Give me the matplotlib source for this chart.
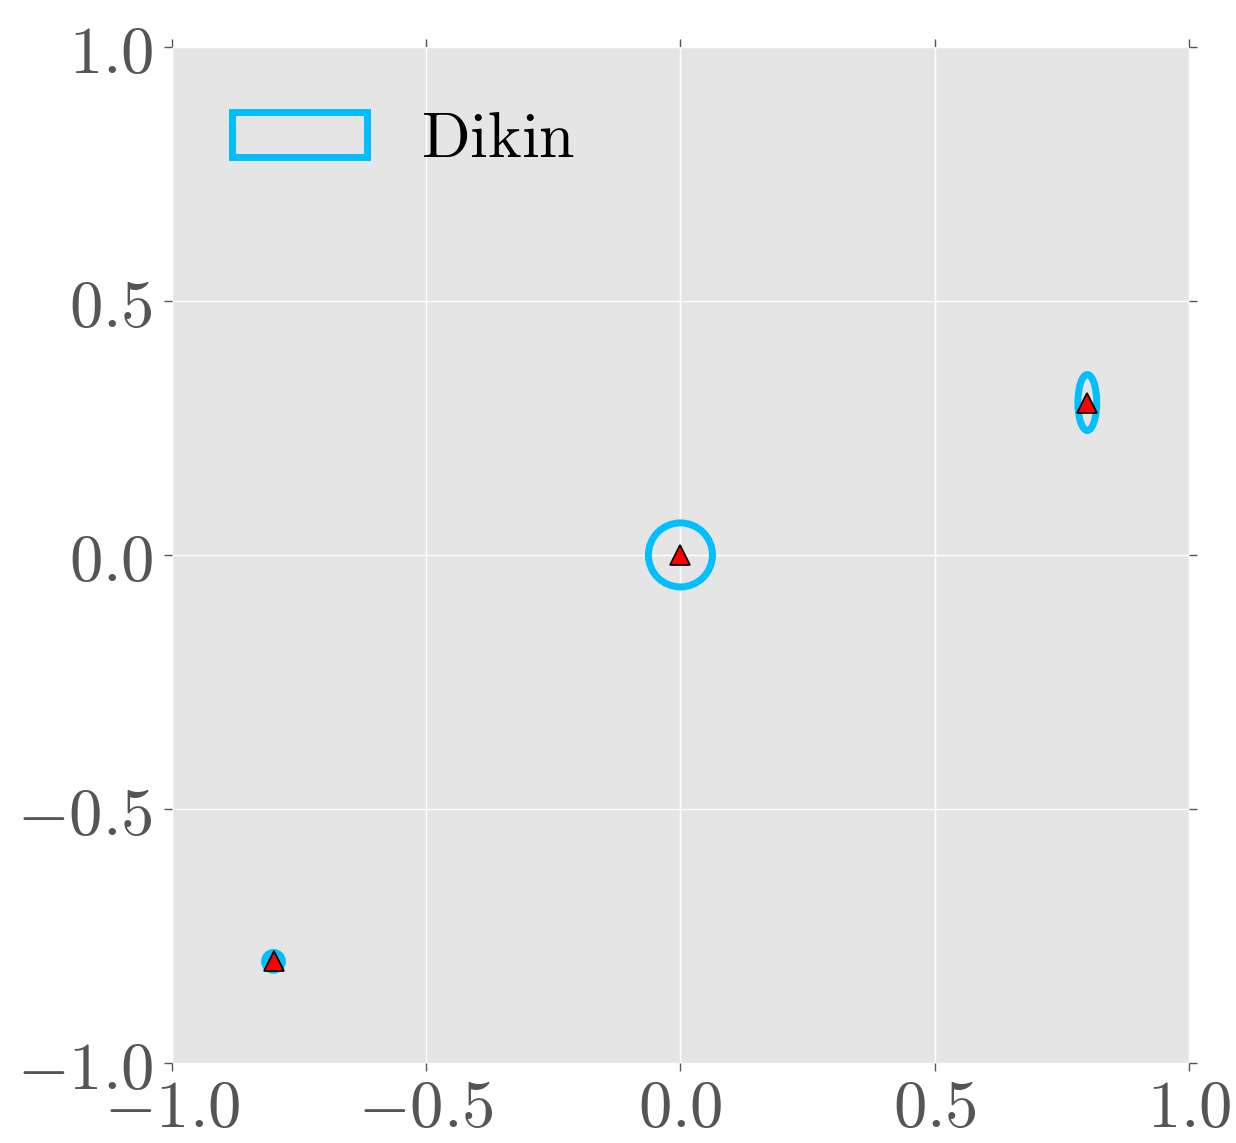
import matplotlib
matplotlib.use("Agg")
import matplotlib.pyplot as plt
from matplotlib.patches import Ellipse
from matplotlib.ticker import FuncFormatter

plt.style.use("ggplot")
plt.rcParams["mathtext.fontset"] = "cm"

# data
centers_x = [0.0, 0.8, -0.8]
centers_y = [0.0, 0.3, -0.8]
ell_width = [0.126, 0.037, 0.035]
ell_height = [0.126, 0.110, 0.035]
ell_filled = [False, False, True]
tick_vals = [-1.0, -0.5, 0.0, 0.5, 1.0]
label = "Dikin"

fig = plt.figure(figsize=(12.36, 11.43), dpi=100)
ax = fig.add_axes([0.139, 0.070, 0.823, 0.889])
ax.set_facecolor("#E5E5E5")

for i, (x, y, w, h, f) in enumerate(zip(centers_x, centers_y, ell_width, ell_height, ell_filled)):
    e = Ellipse((x, y), w, h, fill=f, facecolor="#00BFFF" if f else "none",
                edgecolor="#00BFFF", lw=5, label=r"$\mathrm{%s}$" % label if i == 0 else None)
    ax.add_patch(e)

ax.plot(centers_x, centers_y, linestyle="none", marker="^", ms=14,
        markerfacecolor="red", markeredgecolor="black", markeredgewidth=1.2, zorder=5)

ax.set_xlim(-1, 1)
ax.set_ylim(-1, 1)
ax.set_xticks(tick_vals)
ax.set_yticks(tick_vals)
fmt = FuncFormatter(lambda v, p: r"$%.1f$" % v)
ax.xaxis.set_major_formatter(fmt)
ax.yaxis.set_major_formatter(fmt)
ax.tick_params(axis="both", which="major", direction="out", length=5.5, width=1,
               color="#555555", labelcolor="#555555", labelsize=48,
               top=True, right=True)
ax.tick_params(axis="y", pad=8)
ax.tick_params(axis="x", pad=3)
ax.grid(True, color="white", lw=1)
for s in ax.spines.values():
    s.set_visible(False)

leg = ax.legend(loc="upper left", frameon=False, fontsize=46,
                handlelength=2.1, handleheight=0.7, handletextpad=0.85,
                borderaxespad=0.55)
for t in leg.get_texts():
    t.set_color("black")

fig.savefig("out.png", dpi=100)
